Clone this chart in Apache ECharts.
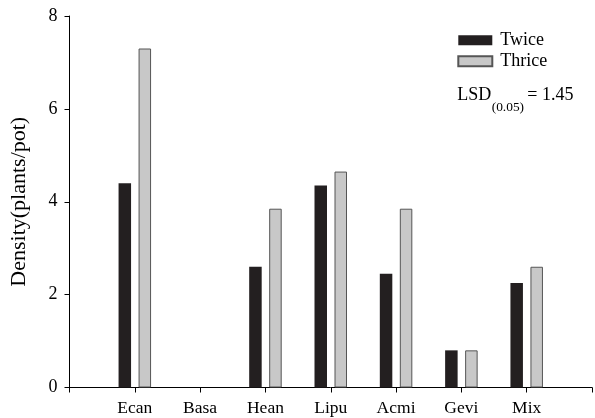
<!DOCTYPE html>
<html>
<head>
<meta charset="utf-8">
<script src="https://cdn.jsdelivr.net/npm/echarts@6/dist/echarts.min.js"></script>
<style>html,body{margin:0;padding:0;background:#fff;}#c{width:595px;height:418px;}</style>
</head>
<body>
<div id="c"></div>
<script>
const categories = ['Ecan', 'Basa', 'Hean', 'Lipu', 'Acmi', 'Gevi', 'Mix'];
const twice = [4.4, 0, 2.6, 4.35, 2.45, 0.8, 2.25];
const thrice = [7.3, 0, 3.85, 4.65, 3.85, 0.8, 2.6];
const yTicks = [0, 2, 4, 6, 8];
const seriesNames = ['Twice', 'Thrice'];
const lsdText = { main: 'LSD', sub: '(0.05)', value: '= 1.45' };

const FONT = 'Liberation Serif';
const padCats = [''].concat(categories, ['']);
const pad = arr => ['-'].concat(arr.map(v => v === 0 ? '-' : v), ['-']);

const chart = echarts.init(document.getElementById('c'), null, { renderer: 'canvas' });
chart.setOption({
  animation: false,
  backgroundColor: '#fff',
  textStyle: { fontFamily: FONT, color: '#000' },
  grid: { left: 67, right: -2, top: 16, bottom: 30.5, containLabel: false },
  legend: {
    orient: 'vertical', left: 457.3, top: 31.3, padding: 0,
    icon: 'rect',
    itemWidth: 34, itemHeight: 10, itemGap: 3,
    textStyle: { fontFamily: FONT, fontSize: 18, color: '#000', padding: [0, 0, 0, 3] },
    data: seriesNames
  },
  xAxis: {
    type: 'category', data: padCats, boundaryGap: false,
    axisLine: { lineStyle: { color: '#000', width: 1 } },
    axisTick: { show: true, length: 5, inside: false, alignWithLabel: true, lineStyle: { color: '#000' } },
    axisLabel: { fontFamily: FONT, fontSize: 17.5, color: '#000', margin: 12, interval: 0 },
    splitLine: { show: false }
  },
  yAxis: {
    type: 'value', min: yTicks[0], max: yTicks[yTicks.length - 1], interval: 2,
    name: 'Density(plants/pot)', nameLocation: 'middle', nameGap: 39.5,
    nameTextStyle: { fontFamily: FONT, fontSize: 22, color: '#000' },
    axisLine: { show: true, lineStyle: { color: '#000', width: 1 } },
    axisTick: { show: true, length: 5, lineStyle: { color: '#000' } },
    axisLabel: { fontFamily: FONT, fontSize: 18, color: '#000', margin: 12 },
    splitLine: { show: false }
  },
  series: [
    {
      name: seriesNames[0], type: 'bar', data: pad(twice),
      barWidth: 12.5, barGap: '60%',
      itemStyle: { color: '#231f20', borderColor: '#231f20', borderWidth: 0 }
    },
    {
      name: seriesNames[1], type: 'bar', data: pad(thrice),
      barWidth: 12.5, barGap: '60%',
      itemStyle: { color: '#c8c8c8', borderColor: '#555', borderWidth: 1 }
    }
  ],
  graphic: [
    { type: 'text', left: 457.3, top: 86.6, style: { text: lsdText.main, font: '18px "' + FONT + '"', fill: '#000' } },
    { type: 'text', left: 491.7, top: 100.5, style: { text: lsdText.sub, font: '13.4px "' + FONT + '"', fill: '#000' } },
    { type: 'text', left: 527.3, top: 86.6, style: { text: lsdText.value, font: '18px "' + FONT + '"', fill: '#000' } }
  ]
});
</script>
</body>
</html>
